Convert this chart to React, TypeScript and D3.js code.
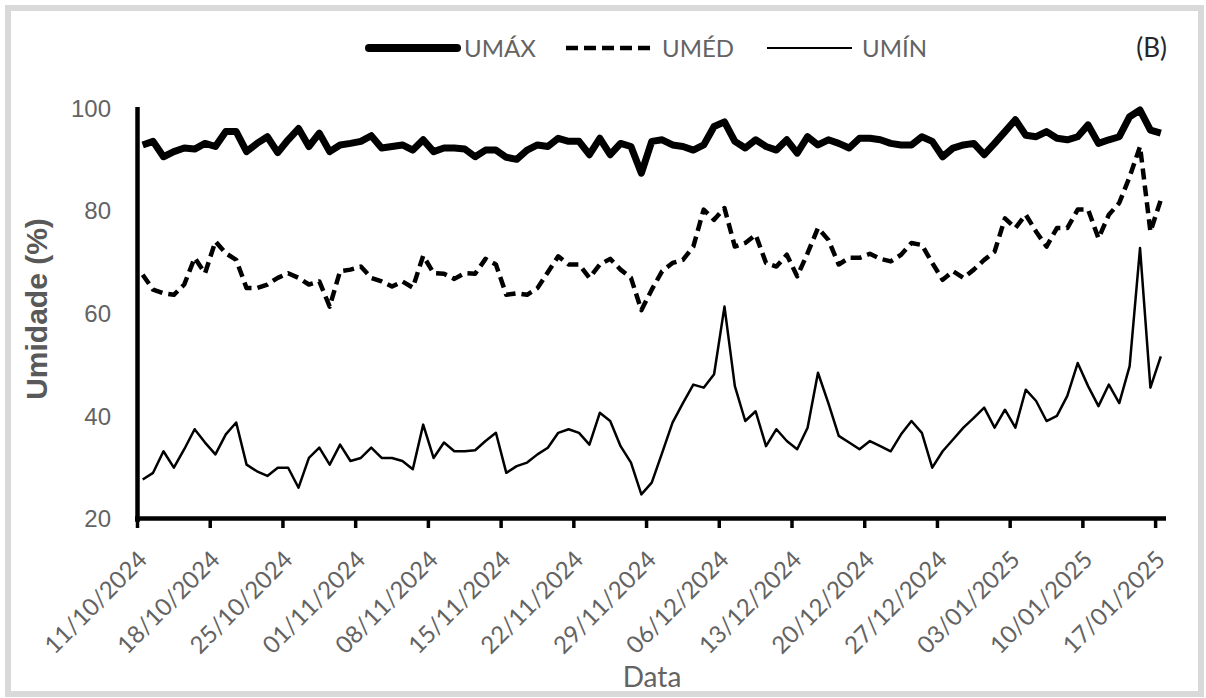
import React from "react";
import * as d3 from "d3";

const tickLabels = [
  "11/10/2024", "18/10/2024", "25/10/2024", "01/11/2024", "08/11/2024",
  "15/11/2024", "22/11/2024", "29/11/2024", "06/12/2024", "13/12/2024",
  "20/12/2024", "27/12/2024", "03/01/2025", "10/01/2025", "17/01/2025",
];
const firstDate = "11/10/2024";
const lastDateExclusive = "18/01/2025";

const umax = [
  92.8, 93.5, 90.5, 91.5, 92.2, 92.0, 93.1, 92.5, 95.4, 95.4, 91.5, 93.1, 94.4, 91.3, 93.8, 96.0, 92.5, 95.1, 91.5, 92.8, 93.1, 93.5, 94.6, 92.2,
  92.5, 92.8, 91.8, 93.8, 91.5, 92.2, 92.2, 92.0, 90.5, 91.8, 91.8, 90.4, 90.0, 91.8, 92.8, 92.5, 94.1, 93.5, 93.5, 90.9, 94.1, 90.9, 93.1, 92.5, 87.3,
  93.5, 93.8, 92.8, 92.5, 91.8, 92.8, 96.4, 97.3, 93.5, 92.2, 93.8, 92.5, 91.8, 93.8, 91.2, 94.4, 92.8, 93.8, 93.1, 92.2, 94.1, 94.1, 93.8, 93.1,
  92.8, 92.8, 94.4, 93.5, 90.5, 92.2, 92.8, 93.1, 90.9, 93.1, 95.4, 97.7, 94.7, 94.4, 95.4, 94.1, 93.8, 94.4, 96.7, 93.1, 93.8, 94.4, 98.3, 99.6, 95.7, 95.1,
];
const umed = [
  67.5, 64.6, 63.9, 63.6, 65.6, 70.8, 67.8, 74.0, 71.7, 70.4, 64.9, 64.9, 65.6, 66.9, 67.8, 66.9, 65.6, 66.2, 61.3, 68.2, 68.5, 69.1, 66.9, 66.2,
  65.2, 66.2, 65.0, 71.2, 67.8, 67.7, 66.7, 67.8, 67.7, 70.6, 69.5, 63.6, 63.9, 63.6, 64.9, 68.0, 71.1, 69.5, 69.5, 66.9, 69.5, 70.6, 68.5, 66.9, 60.6,
  64.6, 68.2, 69.8, 70.4, 73.0, 80.2, 78.2, 80.5, 73.0, 73.7, 75.3, 69.8, 69.1, 71.4, 67.2, 71.7, 76.6, 74.3, 69.5, 70.8, 70.8, 71.6, 70.6, 70.1,
  71.4, 73.7, 73.3, 69.8, 66.5, 68.2, 66.9, 68.5, 70.4, 72.0, 78.5, 76.6, 79.2, 75.9, 73.0, 76.6, 76.6, 80.2, 80.2, 74.6, 79.2, 81.5, 86.6, 92.5, 75.9, 82.1,
];
const umin = [
  27.6, 28.9, 33.1, 29.9, 33.5, 37.4, 34.8, 32.5, 36.4, 38.7, 30.5, 29.2, 28.3, 29.9, 29.9, 26.0, 31.8, 33.8, 30.5, 34.4, 31.2, 31.8, 33.8, 31.8,
  31.8, 31.2, 29.6, 38.3, 31.8, 34.8, 33.1, 33.1, 33.3, 35.1, 36.7, 28.9, 30.2, 30.9, 32.5, 33.8, 36.7, 37.4, 36.7, 34.4, 40.6, 39.0, 34.1, 30.9, 24.7,
  27.0, 32.8, 38.7, 42.5, 46.1, 45.5, 48.1, 61.3, 45.8, 39.0, 40.9, 34.1, 37.4, 35.1, 33.5, 37.7, 48.4, 42.5, 36.1, 34.8, 33.5, 35.1, 34.1, 33.1,
  36.4, 39.0, 36.7, 29.9, 33.1, 35.4, 37.7, 39.6, 41.6, 37.7, 41.2, 37.7, 45.1, 42.9, 39.0, 40.0, 43.9, 50.3, 45.8, 41.9, 46.1, 42.5, 49.7, 72.7, 45.5, 51.6,
];
const yTicks = [20, 40, 60, 80, 100];
const legendLabels = ["UMÁX", "UMÉD", "UMÍN"];

const W = 1206;
const H = 698;
const GRAY = "#595959";
const LABEL_GRAY = "#636363";

export default function App() {
  const parse = d3.utcParse("%d/%m/%Y");
  const start = parse(firstDate) as Date;
  const end = parse(lastDateExclusive) as Date;
  const days = d3.utcDay.range(start, end);

  const x = d3.scaleUtc().domain([start, end]).range([137.5, 1166]);
  const y = d3.scaleLinear().domain([20, 100]).range([518.5, 108]);

  const mid = (d: Date) => x(d3.utcHour.offset(d, 12));
  const mk = (vals: number[]) =>
    d3
      .line<number>()
      .x((_, i) => mid(days[i]))
      .y((v) => y(v))(vals) as string;

  const ticks = tickLabels.map((t) => ({ label: t, date: parse(t) as Date }));

  return (
    <svg
      width={W}
      height={H}
      style={{ position: "absolute", left: 0, top: 0, background: "#fff" }}
    >
      <rect x={0} y={0} width={W} height={H} fill="#fff" />
      <rect
        x={8}
        y={8}
        width={1193}
        height={686}
        fill="#fff"
        stroke="#d9d9d9"
        strokeWidth={6}
      />

      {/* legend */}
      <g fontFamily="Lato, 'Open Sans', sans-serif" fontSize={24} fill={LABEL_GRAY}>
        <line x1={369} x2={457} y1={48} y2={48} stroke="#000" strokeWidth={8} strokeLinecap="round" />
        <text x={464} y={48} dy="0.36em">{legendLabels[0]}</text>
        <line x1={566} x2={652} y1={48} y2={48} stroke="#000" strokeWidth={4.5} strokeDasharray="12 6" />
        <text x={662} y={48} dy="0.36em">{legendLabels[1]}</text>
        <line x1={767} x2={852} y1={48} y2={48} stroke="#000" strokeWidth={2.2} />
        <text x={862} y={48} dy="0.36em">{legendLabels[2]}</text>
      </g>
      <text
        x={1167}
        y={48}
        dy="0.36em"
        textAnchor="end"
        fontFamily="Lato, 'Open Sans', sans-serif"
        fontSize={26}
        fill="#262626"
      >
        (B)
      </text>

      {/* y tick labels */}
      <g fontFamily="'Liberation Sans', Arial, sans-serif" fontSize={24} fill={LABEL_GRAY} textAnchor="end">
        {yTicks.map((t) => (
          <text key={t} x={111} y={y(t)} dy="0.36em">
            {t}
          </text>
        ))}
      </g>

      {/* y title */}
      <text
        transform={`translate(47, 309) rotate(-90)`}
        textAnchor="middle"
        fontFamily="'Liberation Sans', Arial, sans-serif"
        fontWeight="bold"
        fontSize={30}
        fill={GRAY}
      >
        Umidade (%)
      </text>

      {/* data lines */}
      <path d={mk(umin)} fill="none" stroke="#000" strokeWidth={2.5} strokeLinejoin="round" />
      <path d={mk(umed)} fill="none" stroke="#000" strokeWidth={4.5} strokeDasharray="11 6" strokeLinejoin="round" />
      <path d={mk(umax)} fill="none" stroke="#000" strokeWidth={7} strokeLinejoin="round" />

      {/* axes */}
      <line x1={137.5} x2={137.5} y1={107} y2={522} stroke="#000" strokeWidth={4.5} />
      <line x1={135} x2={1166} y1={518.5} y2={518.5} stroke="#000" strokeWidth={4.5} />
      {ticks.map((t) => (
        <line key={t.label} x1={x(t.date)} x2={x(t.date)} y1={518} y2={528} stroke="#000" strokeWidth={3.5} />
      ))}

      {/* x tick labels */}
      <g fontFamily="Lato, 'Open Sans', sans-serif" fontSize={24} fill={LABEL_GRAY}>
        {ticks.map((t) => (
          <text
            key={t.label}
            transform={`translate(${x(t.date) + 5}, 555) rotate(-45)`}
            textAnchor="end"
            dy="0.36em"
          >
            {t.label}
          </text>
        ))}
      </g>

      <text
        x={652}
        y={687}
        textAnchor="middle"
        fontFamily="Lato, 'Open Sans', sans-serif"
        fontSize={28}
        fill={LABEL_GRAY}
      >
        Data
      </text>
    </svg>
  );
}
